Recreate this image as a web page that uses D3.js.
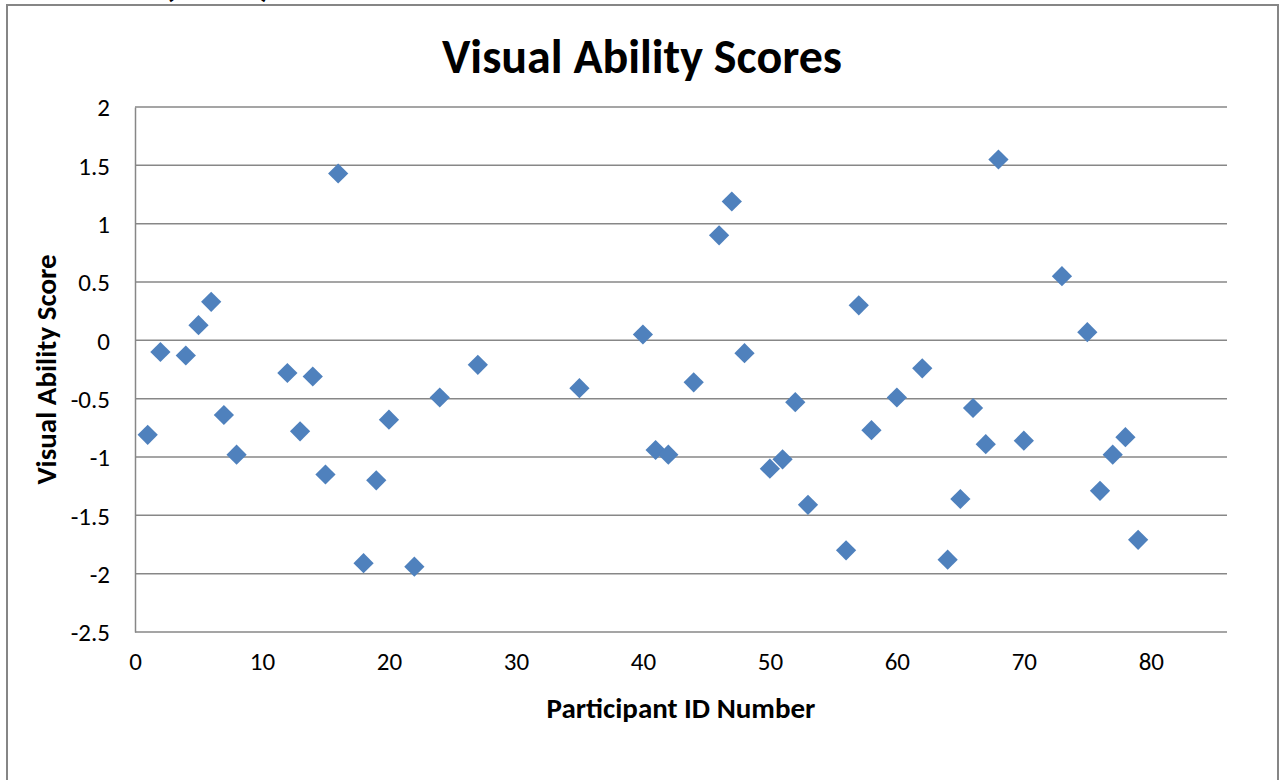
<!DOCTYPE html>
<html>
<head>
<meta charset="utf-8">
<script src="https://cdn.jsdelivr.net/npm/d3@7"></script>
<style>
  body { margin: 0; background: #fff; }
  text { font-family: Carlito, Calibri, Lato, sans-serif; fill: #000; }
</style>
</head>
<body>
<div id="chart"></div>
<script>
// participant ids and their visual ability scores
var ids    = [1, 2, 4, 5, 6, 7, 8, 12, 13, 14, 15, 16, 18, 19, 20, 22, 24, 27,
              35, 40, 41, 42, 44, 46, 47, 48, 50, 51, 52, 53, 56, 57, 58, 60,
              62, 64, 65, 66, 67, 68, 70, 73, 75, 76, 77, 78, 79];
var scores = [-0.81, -0.10, -0.13, 0.13, 0.33, -0.64, -0.98, -0.28, -0.78, -0.31, -1.15, 1.43, -1.91, -1.20, -0.68, -1.94, -0.49, -0.21,
              -0.41, 0.05, -0.94, -0.98, -0.36, 0.90, 1.19, -0.11, -1.10, -1.02, -0.53, -1.41, -1.80, 0.30, -0.77, -0.49,
              -0.24, -1.88, -1.36, -0.58, -0.89, 1.55, -0.86, 0.55, 0.07, -1.29, -0.98, -0.83, -1.71];
var xTicks = [0, 10, 20, 30, 40, 50, 60, 70, 80];
var yTicks = [2, 1.5, 1, 0.5, 0, -0.5, -1, -1.5, -2, -2.5];

var W = 1279, H = 780;
var margin = {top: 107, right: 52, bottom: 148, left: 135},
    width = W - margin.left - margin.right,
    height = H - margin.top - margin.bottom;

var svg = d3.select("#chart").append("svg")
    .attr("width", W)
    .attr("height", H);

// heading of the page above, mostly hidden behind the chart
svg.append("text")
    .attr("x", 163).attr("y", -4)
    .style("font-size", "40px")
    .style("font-weight", "bold")
    .text("(cont.)");

// outer chart frame (runs off the bottom of the page)
svg.append("rect")
    .attr("x", 7).attr("y", 5)
    .attr("width", 1271).attr("height", 800)
    .style("fill", "#fff")
    .style("stroke", "#868686")
    .style("stroke-width", 2);

var g = svg.append("g")
    .attr("transform", "translate(" + margin.left + "," + margin.top + ")");

var x = d3.scaleLinear().domain([0, 86]).range([0, width]);
var y = d3.scaleLinear().domain([-2.5, 2]).range([height, 0]);

// horizontal gridlines
g.selectAll(".grid")
    .data(yTicks)
  .enter().append("line")
    .attr("class", "grid")
    .attr("x1", 0).attr("x2", width)
    .attr("y1", function(d){ return y(d); })
    .attr("y2", function(d){ return y(d); })
    .style("stroke", "#878787")
    .style("stroke-width", 1.5);

var yAxis = g.append("g")
    .call(d3.axisLeft(y).tickValues(yTicks).tickSize(0).tickPadding(25)
      .tickFormat(function(d){ return String(d); }));
yAxis.select(".domain").style("stroke", "#878787").style("stroke-width", 1.5);
yAxis.selectAll("text").style("font-size", "25px").attr("dy", "0.35em");

var xAxis = g.append("g")
    .attr("transform", "translate(0," + height + ")")
    .call(d3.axisBottom(x).tickValues(xTicks).tickSize(0).tickPadding(20));
xAxis.select(".domain").remove();
xAxis.selectAll("text").style("font-size", "25px");

// diamond markers
var diamond = d3.symbol().type(d3.symbolSquare).size(205);
g.selectAll(".dot")
    .data(ids)
  .enter().append("path")
    .attr("class", "dot")
    .attr("d", diamond)
    .attr("transform", function(d, i){
      return "translate(" + x(d) + "," + y(scores[i]) + ") rotate(45)";
    })
    .style("fill", "#4F81BD");

// titles
svg.append("text")
    .attr("x", 642).attr("y", 73)
    .attr("text-anchor", "middle")
    .style("font-size", "48px")
    .style("font-weight", "bold")
    .text("Visual Ability Scores");

svg.append("text")
    .attr("x", margin.left + width / 2).attr("y", 718)
    .attr("text-anchor", "middle")
    .style("font-size", "29px")
    .style("font-weight", "bold")
    .text("Participant ID Number");

svg.append("text")
    .attr("transform", "translate(56," + (margin.top + height / 2) + ") rotate(-90)")
    .attr("text-anchor", "middle")
    .style("font-size", "29px")
    .style("font-weight", "bold")
    .text("Visual Ability Score");
</script>
</body>
</html>
